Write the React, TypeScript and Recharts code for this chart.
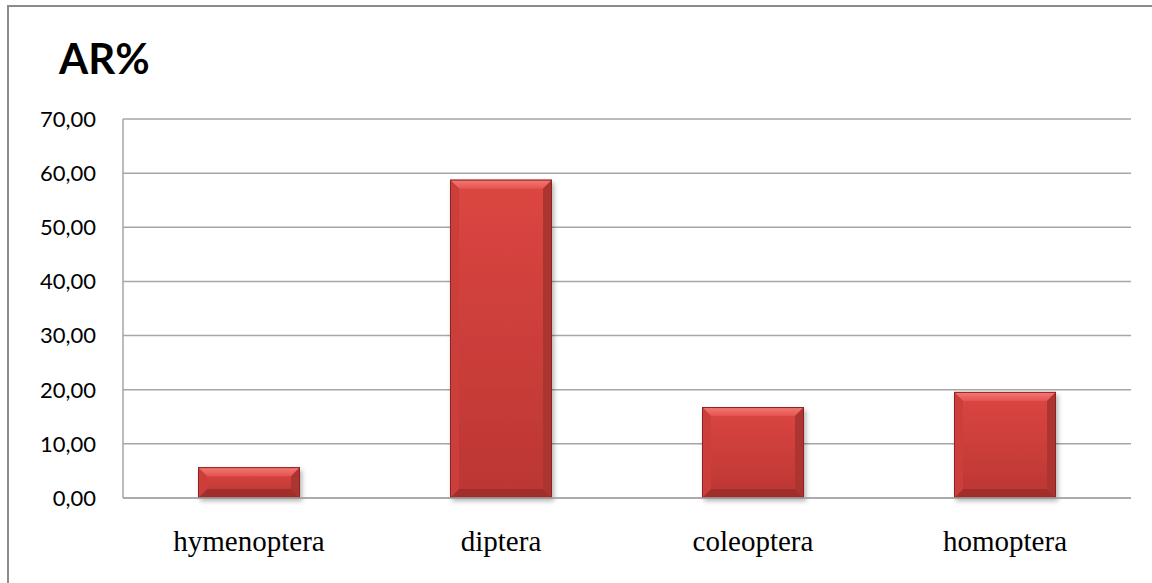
import React from 'react';
import { BarChart, Bar, XAxis, YAxis, CartesianGrid } from 'recharts';

const categories = ['hymenoptera', 'diptera', 'coleoptera', 'homoptera'];
const arValues = [5.7, 58.8, 16.8, 19.6];
const yTicks = [0, 10, 20, 30, 40, 50, 60, 70];

const data = categories.map((name, i) => ({ name, ar: arValues[i] }));

const W = 1152;
const H = 583;

const formatTick = (v: number) => v.toFixed(2).replace('.', ',');

// Bevelled bar: body gradient, lighter top edge, darker sides and bottom, soft shadow.
const BevelBar = (props: any) => {
  const { x, y, width, height } = props;
  if (!height || height <= 0) return null;
  const b = Math.min(9, height / 3, width / 3);
  const x2 = x + width;
  const y2 = y + height;
  return (
    <g>
      <rect x={x} y={y} width={width} height={height} fill="url(#barBody)" filter="url(#barShadow)" />
      <polygon points={`${x},${y} ${x2},${y} ${x2 - b},${y + b} ${x + b},${y + b}`} fill="url(#barTop)" />
      <polygon points={`${x},${y2} ${x2},${y2} ${x2 - b},${y2 - b} ${x + b},${y2 - b}`} fill="#a02e2b" />
      <polygon points={`${x},${y} ${x + b},${y + b} ${x + b},${y2 - b} ${x},${y2}`} fill="#cc3e3a" />
      <polygon points={`${x2},${y} ${x2 - b},${y + b} ${x2 - b},${y2 - b} ${x2},${y2}`} fill="#ac3431" />
      <rect x={x + 0.5} y={y + 0.5} width={width - 1} height={height - 1} fill="none" stroke="#8a2422" strokeWidth={1} />
    </g>
  );
};

export default function App() {
  return (
    <div style={{ position: 'absolute', left: 0, top: 0, width: W, height: H, background: '#fff', overflow: 'hidden' }}>
      <div
        style={{
          position: 'absolute',
          left: 7,
          top: 5,
          width: W,
          height: H,
          borderLeft: '2px solid #8c8c8c',
          borderTop: '2px solid #8c8c8c',
        }}
      />
      <svg style={{ position: 'absolute', left: 0, top: 0 }} width={W} height={100}>
        <text x={59} y={74} fontFamily="Lato, 'Open Sans', sans-serif" fontWeight={700} fontSize={42} fill="#000">
          AR%
        </text>
      </svg>
      <div style={{ position: 'absolute', left: 0, top: 0 }}>
        <BarChart width={W} height={H} data={data} margin={{ top: 119, right: 21, bottom: 0, left: 0 }}>
          <defs>
            <linearGradient id="barBody" x1="0" y1="0" x2="0" y2="1">
              <stop offset="0%" stopColor="#dc4642" />
              <stop offset="100%" stopColor="#bb3633" />
            </linearGradient>
            <linearGradient id="barTop" x1="0" y1="0" x2="0" y2="1">
              <stop offset="0%" stopColor="#f47a76" />
              <stop offset="100%" stopColor="#e45450" />
            </linearGradient>
            <filter id="barShadow" x="-10%" y="-10%" width="130%" height="130%">
              <feDropShadow dx={2} dy={3} stdDeviation={2.5} floodColor="#000" floodOpacity={0.3} />
            </filter>
          </defs>
          <CartesianGrid horizontal vertical={false} stroke="#a6a6a6" strokeWidth={1.5} />
          <XAxis
            dataKey="name"
            axisLine={{ stroke: '#a6a6a6', strokeWidth: 1.5 }}
            tickLine={false}
            tickSize={0}
            tickMargin={32}
            height={85}
            interval={0}
            tick={{ fill: '#000', fontSize: 29, fontFamily: "'Liberation Serif', 'Times New Roman', serif" }}
          />
          <YAxis
            domain={[0, 70]}
            ticks={yTicks}
            tickFormatter={formatTick}
            axisLine={{ stroke: '#a6a6a6', strokeWidth: 1.5 }}
            tickLine={false}
            tickSize={0}
            tickMargin={27}
            width={123}
            interval={0}
            tick={{ fill: '#000', fontSize: 22, fontFamily: "Lato, 'Open Sans', sans-serif" }}
          />
          <Bar dataKey="ar" barSize={102} shape={BevelBar} isAnimationActive={false} />
        </BarChart>
      </div>
    </div>
  );
}
